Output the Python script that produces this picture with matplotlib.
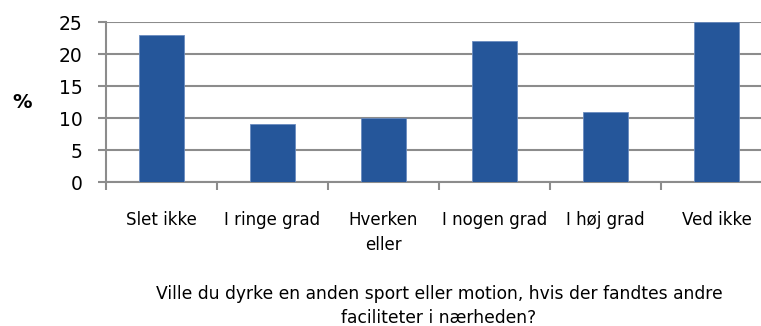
import matplotlib
matplotlib.use("Agg")
import matplotlib.pyplot as plt
import numpy as np

categories = ["Slet ikke", "I ringe grad", "Hverken\neller", "I nogen grad", "I høj grad", "Ved ikke"]
values = [23, 9, 10, 22, 11, 25]
yticks = [0, 5, 10, 15, 20, 25]
xlabel = "Ville du dyrke en anden sport eller motion, hvis der fandtes andre\nfaciliteter i nærheden?"

plt.rcParams['font.family'] = ['Liberation Sans Narrow', 'DejaVu Sans']

W, H = 761, 326
fig = plt.figure(figsize=(W / 100, H / 100), dpi=100)
ax = fig.add_axes([106 / W, 1 - 182 / H, 666 / W, 160 / H])

x = np.arange(len(categories))
ax.bar(x, values, width=0.4, color="#25569A", edgecolor="#6A8CC0", linewidth=0.6, zorder=3)

ax.set_xlim(-0.5, len(categories) - 0.5)
ax.set_ylim(0, 25)
ax.set_yticks(yticks)
ax.set_yticklabels([str(v) for v in yticks], fontsize=13.5)
ax.grid(axis="y", color="#8C8C8C", linewidth=1.5, zorder=0)

ax.set_xticks(np.arange(len(categories) + 1) - 0.5)
ax.set_xticklabels([])
ax.set_xticks(x, minor=True)
ax.set_xticklabels(categories, minor=True, fontsize=12, linespacing=1.5)
ax.tick_params(axis="x", which="minor", length=0, pad=21)
ax.tick_params(axis="x", which="major", length=6, width=1.5, color="#8C8C8C")
ax.tick_params(axis="y", length=6, width=1.5, color="#8C8C8C", pad=11)

for s in ["top", "right"]:
    ax.spines[s].set_visible(False)
for s in ["left", "bottom"]:
    ax.spines[s].set_color("#8C8C8C")
    ax.spines[s].set_linewidth(1.5)

ax.set_ylabel("%", fontsize=14, fontweight="bold", rotation=0, labelpad=26, va="center")
ax.set_xlabel(xlabel, fontsize=12.3, linespacing=1.45, labelpad=22)

fig.savefig("out.png", dpi=100)
